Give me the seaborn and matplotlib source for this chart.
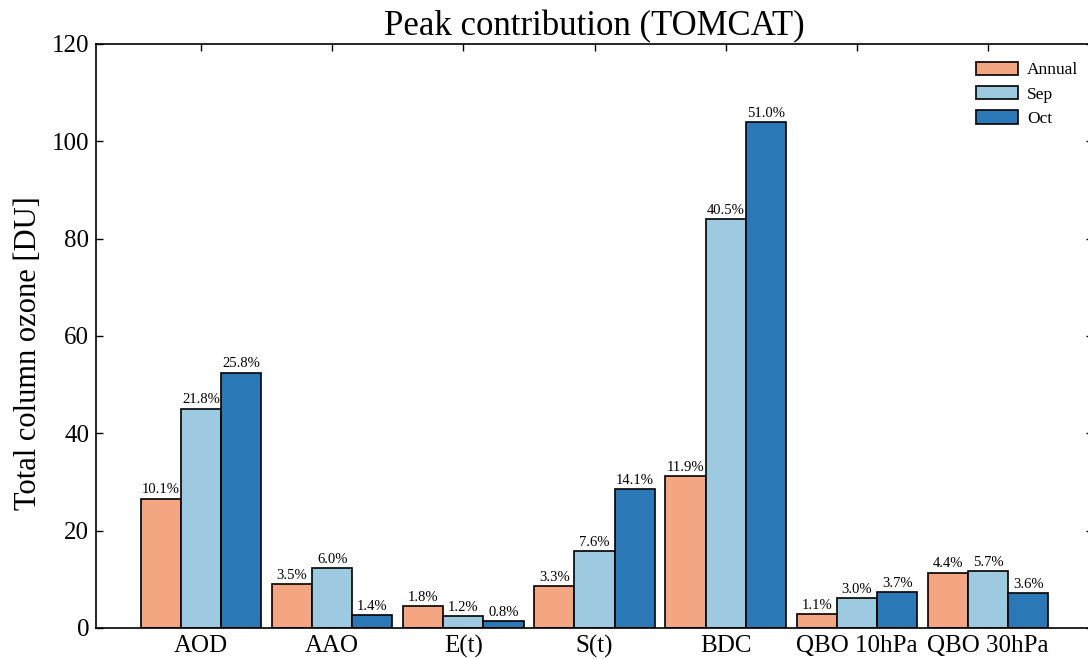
import matplotlib
matplotlib.use('Agg')
import matplotlib.pyplot as plt
import numpy as np
import pandas as pd
import seaborn as sns

# values
categories = ['AOD', 'AAO', 'E(t)', 'S(t)', 'BDC', 'QBO 10hPa', 'QBO 30hPa']
seasons = ['Annual', 'Sep', 'Oct']

annual = [26.6, 9.1, 4.6, 8.6, 31.3, 2.9, 11.4]
sep = [45.1, 12.4, 2.4, 15.8, 84.0, 6.1, 11.7]
oct_ = [52.5, 2.7, 1.5, 28.6, 103.9, 7.4, 7.2]

annual_pct = ['10.1%', '3.5%', '1.8%', '3.3%', '11.9%', '1.1%', '4.4%']
sep_pct = ['21.8%', '6.0%', '1.2%', '7.6%', '40.5%', '3.0%', '5.7%']
oct_pct = ['25.8%', '1.4%', '0.8%', '14.1%', '51.0%', '3.7%', '3.6%']

colors = ['#F4A582', '#9ECAE1', '#2B78B6']

df = pd.DataFrame({
    'term': categories * 3,
    'season': np.repeat(seasons, len(categories)),
    'ozone': annual + sep + oct_,
})

sns.set_theme(style='ticks')
plt.rcParams['font.family'] = ['Liberation Serif', 'DejaVu Serif']
plt.rcParams['text.color'] = 'black'
plt.rcParams['axes.labelcolor'] = 'black'
plt.rcParams['xtick.color'] = 'black'
plt.rcParams['ytick.color'] = 'black'
plt.rcParams['axes.edgecolor'] = 'black'

fig = plt.figure(figsize=(10.88, 6.59), dpi=100)
ax = fig.add_axes([96 / 1088, 31 / 659, 997 / 1088, 584 / 659])

sns.barplot(data=df, x='term', y='ozone', hue='season', order=categories,
            hue_order=seasons, palette=colors, width=0.92, gap=0,
            edgecolor='black', linewidth=1.2, saturation=1, ax=ax)

for cont, labels in zip(ax.containers, [annual_pct, sep_pct, oct_pct]):
    ax.bar_label(cont, labels=labels, fontsize=10.5, padding=1.5)

ax.set_xlim(-0.8, 6.8)
ax.set_ylim(0, 120)
ax.set_yticks(range(0, 121, 20))
ax.set_xlabel('')
ax.set_ylabel('Total column ozone [DU]', fontsize=22)
ax.yaxis.set_label_coords(-0.053, 0.47)
ax.set_title('Peak contribution (TOMCAT)', fontsize=25, pad=6)
ax.tick_params(axis='both', direction='in', top=True, right=True,
               length=5, width=1, labelsize=18, pad=5)
for s in ax.spines.values():
    s.set_linewidth(1.2)

ax.legend(loc='upper right', bbox_to_anchor=(0.985, 0.97), frameon=False,
          fontsize=12.5, handlelength=2.4, handleheight=0.8,
          labelspacing=0.45, handletextpad=0.5, borderpad=0, borderaxespad=0)

fig.savefig('out.png', dpi=100)
